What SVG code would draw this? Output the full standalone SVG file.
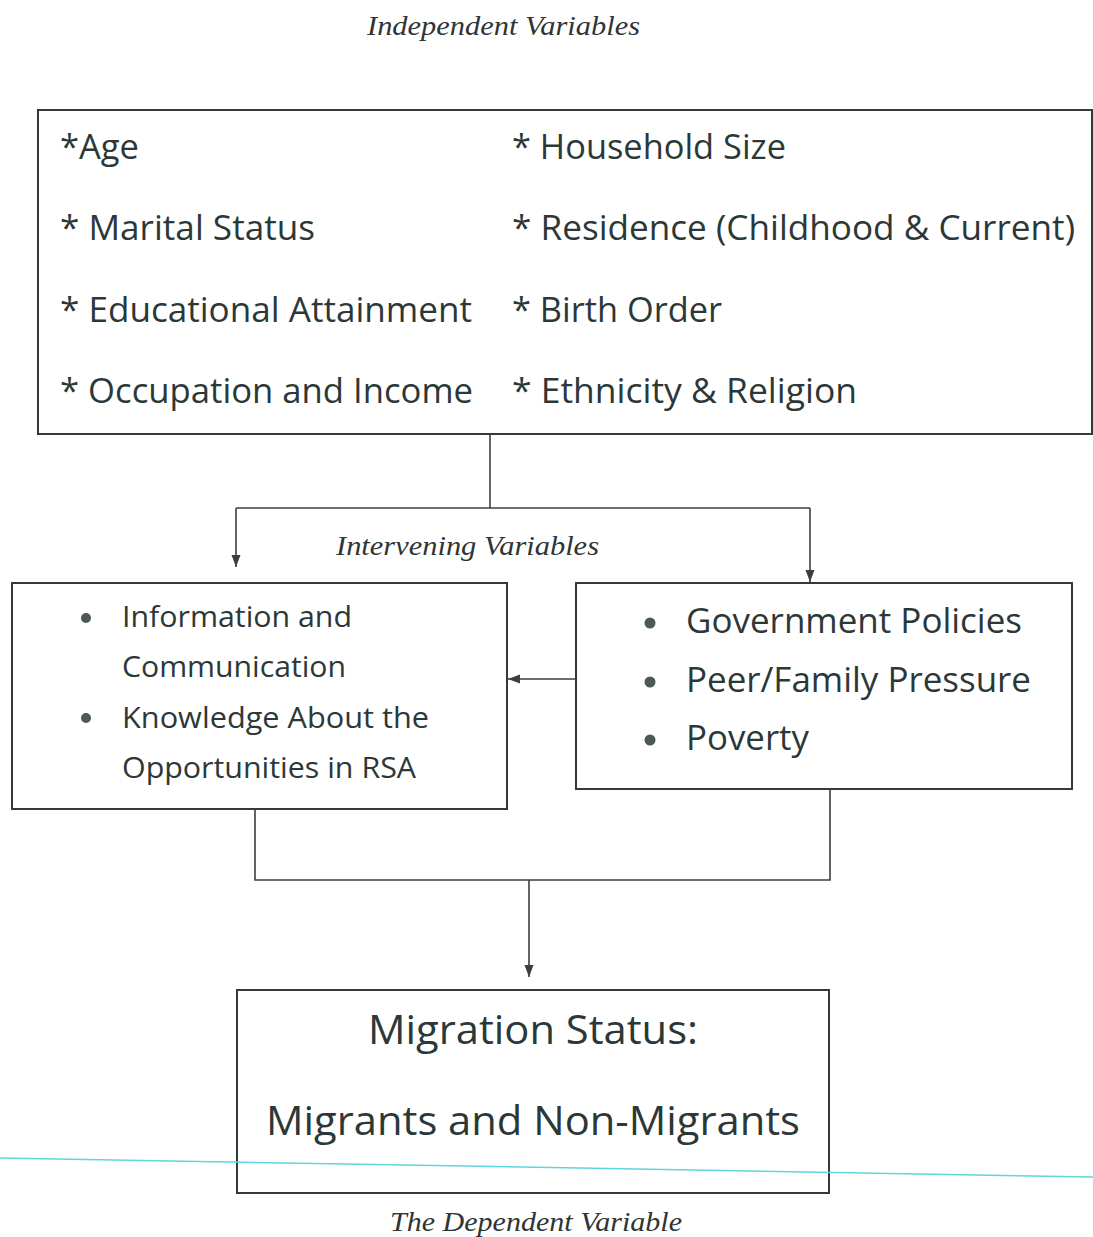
<svg xmlns="http://www.w3.org/2000/svg" width="1093" height="1237" viewBox="0 0 1093 1237">
  <style>
    .box { fill: none; stroke: #333a3a; stroke-width: 2; }
    .wire { fill: none; stroke: #3a3f3f; stroke-width: 1.6; }
    .sans { font-family: "Open Sans", "Liberation Sans", sans-serif; fill: #2c3838; }
    .title { font-family: "Liberation Serif", "Times New Roman", serif; font-style: italic; fill: #2f3535; font-size: 27px; }
    .dot { fill: #4d5858; }
  </style>
  <defs>
    <marker id="arrow" viewBox="0 0 12 10" refX="12" refY="5" markerWidth="12" markerHeight="10" markerUnits="userSpaceOnUse" orient="auto">
      <path d="M0,0.5 L12,5 L0,9.5 Z" fill="#3a3f3f"/>
    </marker>
  </defs>

  <rect width="1093" height="1237" fill="#ffffff"/>

  <text class="title" x="367" y="35" textLength="273" lengthAdjust="spacingAndGlyphs">Independent Variables</text>

  <!-- independent variables -->
  <g id="independent">
    <rect class="box" x="38" y="110" width="1054" height="324"/>
    <g class="sans" font-size="34">
      <text x="60" y="159" textLength="79" lengthAdjust="spacingAndGlyphs">*Age</text>
      <text x="60" y="240" textLength="255" lengthAdjust="spacingAndGlyphs">* Marital Status</text>
      <text x="60" y="322" textLength="412" lengthAdjust="spacingAndGlyphs">* Educational Attainment</text>
      <text x="60" y="403" textLength="413" lengthAdjust="spacingAndGlyphs">* Occupation and Income</text>
      <text x="512" y="159" textLength="274" lengthAdjust="spacingAndGlyphs">* Household Size</text>
      <text x="512" y="240" textLength="563" lengthAdjust="spacingAndGlyphs">* Residence (Childhood &amp; Current)</text>
      <text x="512" y="322" textLength="210" lengthAdjust="spacingAndGlyphs">* Birth Order</text>
      <text x="512" y="403" textLength="345" lengthAdjust="spacingAndGlyphs">* Ethnicity &amp; Religion</text>
    </g>
  </g>

  <text class="title" x="336" y="555" textLength="263" lengthAdjust="spacingAndGlyphs">Intervening Variables</text>

  <!-- information / knowledge -->
  <g id="information">
    <rect class="box" x="12" y="583" width="495" height="226"/>
    <circle class="dot" cx="86" cy="618" r="5"/>
    <circle class="dot" cx="86" cy="718" r="5"/>
    <g class="sans" font-size="29">
      <text x="122" y="627" textLength="230" lengthAdjust="spacingAndGlyphs">Information and</text>
      <text x="122" y="677" textLength="224" lengthAdjust="spacingAndGlyphs">Communication</text>
      <text x="122" y="728" textLength="307" lengthAdjust="spacingAndGlyphs">Knowledge About the</text>
      <text x="122" y="778" textLength="294" lengthAdjust="spacingAndGlyphs">Opportunities in RSA</text>
    </g>
  </g>

  <!-- policies / pressure / poverty -->
  <g id="pressures">
    <rect class="box" x="576" y="583" width="496" height="206"/>
    <circle class="dot" cx="650" cy="623" r="5.5"/>
    <circle class="dot" cx="650" cy="682" r="5.5"/>
    <circle class="dot" cx="650" cy="740" r="5.5"/>
    <g class="sans" font-size="34">
      <text x="686" y="633" textLength="336" lengthAdjust="spacingAndGlyphs">Government Policies</text>
      <text x="686" y="692" textLength="345" lengthAdjust="spacingAndGlyphs">Peer/Family Pressure</text>
      <text x="686" y="750" textLength="123" lengthAdjust="spacingAndGlyphs">Poverty</text>
    </g>
  </g>

  <!-- migration status -->
  <g id="migration">
    <rect class="box" x="237" y="990" width="592" height="203"/>
    <g class="sans" font-size="40">
      <text x="368" y="1044" textLength="330" lengthAdjust="spacingAndGlyphs">Migration Status:</text>
      <text x="266" y="1135" textLength="534" lengthAdjust="spacingAndGlyphs">Migrants and Non-Migrants</text>
    </g>
  </g>

  <text class="title" x="390" y="1231" textLength="292" lengthAdjust="spacingAndGlyphs">The Dependent Variable</text>

  <!-- connectors -->
  <g id="connectors">
    <path class="wire" d="M490,434 V508"/>
    <path class="wire" d="M236,508 H810"/>
    <path class="wire" d="M236,508 V567" marker-end="url(#arrow)"/>
    <path class="wire" d="M810,508 V582" marker-end="url(#arrow)"/>
    <path class="wire" d="M576,679 H508" marker-end="url(#arrow)"/>
    <path class="wire" d="M255,809 V880 H830 V789"/>
    <path class="wire" d="M529,880 V977" marker-end="url(#arrow)"/>
  </g>

  <!-- thin cyan rule across the lower page -->
  <line x1="0" y1="1158" x2="1093" y2="1177" stroke="#5fd6dc" stroke-width="1.5"/>
</svg>
